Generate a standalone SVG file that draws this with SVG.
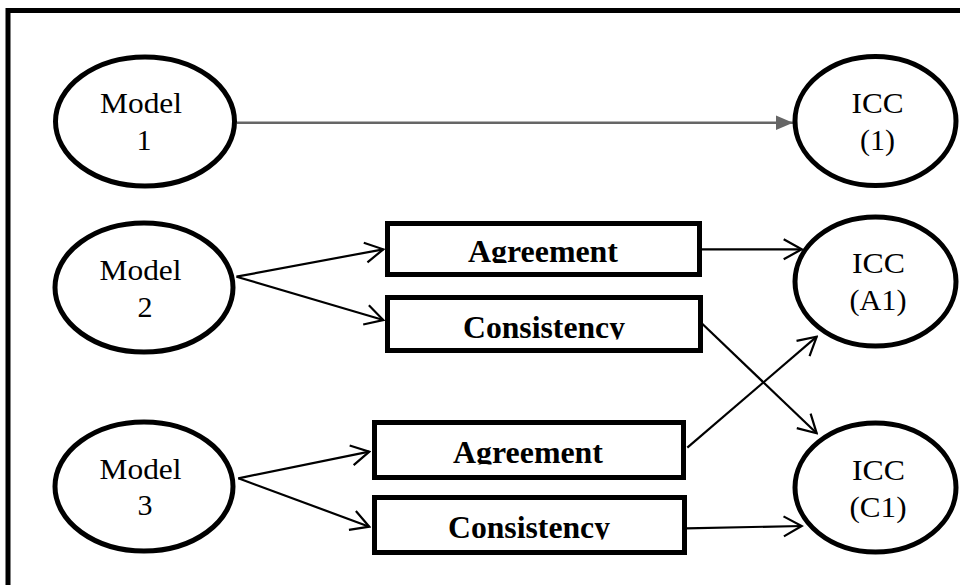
<svg xmlns="http://www.w3.org/2000/svg" width="960" height="585" viewBox="0 0 960 585">
<style>
.frame{fill:none;stroke:#000;stroke-width:5}
.node{fill:#fff;stroke:#000;stroke-width:5}
.box{fill:#fff;stroke:#000;stroke-width:5}
.t{font-family:"Liberation Serif","Times New Roman",serif;font-size:30px;fill:#000;text-anchor:middle}
.b{font-family:"Liberation Serif","Times New Roman",serif;font-size:31px;font-weight:bold;fill:#000;text-anchor:middle}
.c{fill:none;stroke:#000;stroke-width:2.2}
.g{fill:none;stroke:#666;stroke-width:2.6}
</style>
<defs>
<marker id="open" markerUnits="userSpaceOnUse" viewBox="-22 -12 24 24" markerWidth="24" markerHeight="24" refX="0" refY="0" orient="auto">
<path d="M-18,-10 L0,0 L-18,10" fill="none" stroke="#000" stroke-width="2.2"/>
</marker>
<marker id="fill" markerUnits="userSpaceOnUse" viewBox="-18 -8 19 16" markerWidth="19" markerHeight="16" refX="0" refY="0" orient="auto">
<path d="M-17,-7.3 L0,0 L-17,7.3 Z" fill="#666"/>
</marker>
<clipPath id="c1"><rect x="380" y="226" width="325" height="37"/></clipPath>
<clipPath id="c2"><rect x="380" y="300" width="325" height="39.5"/></clipPath>
<clipPath id="c3"><rect x="370" y="425" width="320" height="39.5"/></clipPath>
<clipPath id="c4"><rect x="370" y="500" width="320" height="39.5"/></clipPath>
</defs>
<rect class="frame" x="8" y="10.5" width="1000" height="1000"/>
<g id="connectors">
<line class="g" x1="237" y1="122.7" x2="793" y2="122.7" marker-end="url(#fill)"/>
<line class="c" x1="236.5" y1="276.7" x2="383.3" y2="249.3" marker-end="url(#open)"/>
<line class="c" x1="236.5" y1="276.7" x2="383.3" y2="320" marker-end="url(#open)"/>
<line class="c" x1="238.3" y1="478.3" x2="369.3" y2="451.7" marker-end="url(#open)"/>
<line class="c" x1="238.3" y1="478.3" x2="369.3" y2="526.7" marker-end="url(#open)"/>
<line class="c" x1="700" y1="249.3" x2="801.7" y2="249.3" marker-end="url(#open)"/>
<line class="c" x1="701.7" y1="323.3" x2="816.7" y2="433.3" marker-end="url(#open)"/>
<line class="c" x1="687.3" y1="447.7" x2="816.7" y2="336.7" marker-end="url(#open)"/>
<line class="c" x1="686" y1="528.3" x2="801.7" y2="526" marker-end="url(#open)"/>
</g>
<g id="model1">
<ellipse class="node" cx="145" cy="121.5" rx="89.5" ry="64.5"/>
<text class="t" x="141" y="113" textLength="82" lengthAdjust="spacingAndGlyphs">Model</text>
<text class="t" x="144" y="150">1</text>
</g>
<g id="model2">
<ellipse class="node" cx="144" cy="287.5" rx="89" ry="64.5"/>
<text class="t" x="140.5" y="280" textLength="82" lengthAdjust="spacingAndGlyphs">Model</text>
<text class="t" x="145" y="317">2</text>
</g>
<g id="model3">
<ellipse class="node" cx="144" cy="486.5" rx="89" ry="64.5"/>
<text class="t" x="140.5" y="479" textLength="82" lengthAdjust="spacingAndGlyphs">Model</text>
<text class="t" x="145" y="515">3</text>
</g>
<g id="icc1">
<ellipse class="node" cx="875.5" cy="121" rx="80.5" ry="64.5"/>
<text class="t" x="877.5" y="113" textLength="52" lengthAdjust="spacingAndGlyphs">ICC</text>
<text class="t" x="877.5" y="150" textLength="35" lengthAdjust="spacingAndGlyphs">(1)</text>
</g>
<g id="iccA1">
<ellipse class="node" cx="875.5" cy="281.5" rx="80.5" ry="64.5"/>
<text class="t" x="878.5" y="273" textLength="53" lengthAdjust="spacingAndGlyphs">ICC</text>
<text class="t" x="878" y="310" textLength="57" lengthAdjust="spacingAndGlyphs">(A1)</text>
</g>
<g id="iccC1">
<ellipse class="node" cx="875.5" cy="487.5" rx="80.5" ry="64.5"/>
<text class="t" x="878.5" y="480" textLength="53" lengthAdjust="spacingAndGlyphs">ICC</text>
<text class="t" x="878" y="517" textLength="57" lengthAdjust="spacingAndGlyphs">(C1)</text>
</g>
<g id="agreement2">
<rect class="box" x="387.5" y="223.5" width="312" height="51"/>
<text class="b" x="543" y="262" textLength="150" lengthAdjust="spacingAndGlyphs" clip-path="url(#c1)">Agreement</text>
</g>
<g id="consistency2">
<rect class="box" x="387.5" y="297.5" width="313" height="53"/>
<text class="b" x="544" y="338.3" textLength="162" lengthAdjust="spacingAndGlyphs" clip-path="url(#c2)">Consistency</text>
</g>
<g id="agreement3">
<rect class="box" x="374.5" y="422.5" width="309" height="55"/>
<text class="b" x="528" y="463.3" textLength="150" lengthAdjust="spacingAndGlyphs" clip-path="url(#c3)">Agreement</text>
</g>
<g id="consistency3">
<rect class="box" x="374.5" y="497.5" width="310" height="55"/>
<text class="b" x="529" y="538.3" textLength="162" lengthAdjust="spacingAndGlyphs" clip-path="url(#c4)">Consistency</text>
</g>
</svg>
